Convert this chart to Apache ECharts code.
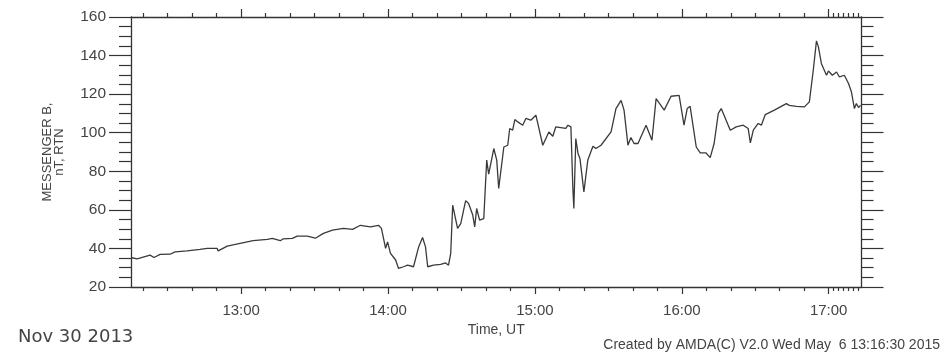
<!DOCTYPE html>
<html lang="en">
<head>
    <meta charset="UTF-8">
    <title>MESSENGER B</title>
    <script src="https://cdn.jsdelivr.net/npm/echarts@6/dist/echarts.min.js"></script>
    <style>
        html, body { margin: 0; padding: 0; background: #fff; }
        #container { width: 943px; height: 359px; }
    </style>
</head>
<body>
<div id="container"></div>
<script type="text/javascript">

    // minutes after 12:00 UT, Nov 30 2013
    var minutes = [
        15.0, 17.5, 22.8, 24.4, 26.9, 31.0, 33.0, 37.9, 43.2, 46.1,
        50.2, 50.6, 54.3, 59.6, 64.9, 70.7, 72.7, 76.0, 77.2, 80.9,
        82.9, 87.0, 90.3, 93.6, 97.3, 101.8, 105.5, 108.7, 112.8, 116.1,
        117.3, 119.0, 119.8, 121.0, 123.1, 124.3, 126.3, 128.0, 130.4, 132.5,
        134.1, 135.3, 136.2, 138.6, 141.5, 143.5, 144.7, 145.6, 146.4, 148.4,
        149.7, 151.7, 152.9, 154.6, 155.4, 156.2, 157.4, 159.1, 160.3, 161.1,
        163.2, 164.4, 165.2, 167.3, 168.9, 169.7, 170.9, 171.8, 173.0, 175.0,
        176.3, 178.3, 180.4, 183.2, 185.7, 187.3, 188.5, 192.6, 193.5, 194.7,
        195.5, 195.9, 196.7, 197.6, 198.4, 200.0, 201.6, 203.7, 204.9, 207.0,
        211.1, 213.1, 215.2, 216.4, 218.0, 219.2, 220.5, 222.1, 225.4, 227.8,
        229.5, 232.8, 235.6, 238.9, 240.9, 242.2, 243.4, 245.9, 247.5, 249.9,
        251.6, 253.2, 254.9, 256.1, 258.1, 259.8, 262.2, 265.1, 267.1, 268.0,
        269.2, 271.2, 272.5, 274.1, 277.8, 282.7, 283.9, 286.8, 290.1, 292.1,
        293.7, 295.0, 295.8, 297.0, 299.1, 299.9, 301.5, 303.2, 304.4, 306.4,
        308.1, 309.3, 310.5, 311.3, 312.2, 313.0
    ];
    // |B| in nT
    var bValues = [
        35.3, 34.6, 36.5, 35.3, 36.9, 37.0, 38.2, 38.7, 39.5, 40.0,
        40.0, 38.7, 41.2, 42.6, 44.0, 44.7, 45.2, 44.0, 45.0, 45.2,
        46.4, 46.4, 45.3, 47.8, 49.5, 50.4, 49.9, 52.0, 51.2, 52.0,
        50.4, 40.0, 43.4, 37.4, 34.0, 29.6, 30.5, 31.3, 30.5, 40.8,
        45.7, 40.8, 30.5, 31.3, 31.7, 32.5, 31.3, 37.4, 62.4, 50.4,
        52.9, 64.8, 63.3, 57.3, 51.2, 60.7, 54.7, 55.5, 85.8, 78.5,
        91.8, 85.8, 71.1, 92.6, 93.5, 102.2, 101.3, 106.8, 105.6, 103.9,
        107.4, 106.5, 109.1, 93.5, 100.4, 98.2, 103.0, 102.2, 103.9, 103.0,
        71.1, 60.7, 97.0, 89.2, 86.6, 69.3, 85.8, 93.0, 91.8, 93.5,
        100.4, 112.5, 116.8, 111.7, 93.5, 97.5, 94.4, 94.4, 103.9, 96.1,
        117.7, 111.7, 118.9, 119.4, 103.9, 112.5, 113.7, 92.6, 89.5, 89.5,
        87.1, 94.4, 110.0, 112.5, 106.5, 101.3, 103.0, 103.9, 102.2, 94.7,
        101.3, 104.8, 103.9, 109.4, 111.7, 115.1, 114.2, 113.7, 113.4, 116.0,
        132.4, 147.6, 144.5, 135.9, 129.8, 132.0, 129.8, 131.5, 128.9, 129.8,
        125.5, 121.1, 112.5, 115.1, 113.1, 114.2
    ];

    // axis range, minutes after midnight
    var timeMin = 735;      // 12:15
    var timeMax = 1033.4;   // ~17:13
    var hourTicks = [780, 840, 900, 960, 1020];
    var minorTicks = [740, 750, 760, 770, 790, 800, 810, 820, 830, 850, 860, 870, 880, 890,
        910, 920, 930, 940, 950, 970, 980, 990, 1000, 1010, 1022, 1024, 1026, 1028, 1030, 1032];

    var dayLabel = 'Nov 30 2013';
    var creditLabel = 'Created by AMDA(C) V2.0 Wed May  6 13:16:30 2015';

    var data = [];
    for (var i = 0; i < minutes.length; i++) {
        data.push([720 + minutes[i], bValues[i]]);
    }

    var ink = '#333';
    var font = 'Liberation Sans';

    function hhmm(v) {
        var h = Math.floor(v / 60), m = Math.round(v - h * 60);
        return h + ':' + (m < 10 ? '0' : '') + m;
    }

    function xAxisDef(pos, ticks, len, main) {
        return {
            type: 'value',
            position: pos,
            offset: 0,
            min: timeMin,
            max: timeMax,
            splitLine: {show: false},
            axisLine: {show: main, onZero: false, lineStyle: {color: ink, width: 1.3}},
            axisTick: {show: true, inside: false, length: len, customValues: ticks,
                lineStyle: {color: ink, width: 1.2}},
            axisLabel: {show: main && pos === 'bottom', customValues: hourTicks, formatter: hhmm,
                margin: 16, color: '#444', fontFamily: font, fontSize: 15},
            name: main && pos === 'bottom' ? 'Time, UT' : '',
            nameLocation: 'middle',
            nameGap: 29,
            nameTextStyle: {color: '#444', fontFamily: font, fontSize: 14}
        };
    }

    function yAxisDef(pos, main) {
        return {
            type: 'value',
            position: pos,
            offset: 0,
            min: 20,
            max: 160,
            interval: 20,
            splitLine: {show: false},
            axisLine: {show: true, lineStyle: {color: ink, width: 1.3}},
            axisTick: {show: true, inside: false, length: 22, lineStyle: {color: ink, width: 1.2}},
            minorTick: {show: true, splitNumber: 4, length: 12, lineStyle: {color: ink, width: 1.2}},
            axisLabel: {show: main, margin: 25, color: '#444', fontFamily: font, fontSize: 15.5},
            name: main ? 'MESSENGER B,\nnT, RTN' : '',
            nameLocation: 'middle',
            nameRotate: 90,
            nameGap: 66,
            nameTextStyle: {color: '#444', fontFamily: font, fontSize: 13, lineHeight: 12}
        };
    }

    var myChart = echarts.init(document.getElementById('container'), null, {renderer: 'canvas'});

    myChart.setOption({
        animation: false,
        backgroundColor: '#fff',
        grid: {left: 131, right: 81.5, top: 17, bottom: 72},
        xAxis: [
            xAxisDef('bottom', hourTicks, 7, true),
            xAxisDef('bottom', minorTicks, 4, false),
            xAxisDef('top', hourTicks, 8, true),
            xAxisDef('top', minorTicks, 4, false)
        ],
        yAxis: [
            yAxisDef('left', true),
            yAxisDef('right', false)
        ],
        graphic: [
            {type: 'text', left: 18, top: 328,
                style: {text: dayLabel, fill: '#444', font: '18px "DejaVu Sans"'}},
            {type: 'text', right: 3, top: 338,
                style: {text: creditLabel, fill: '#444', font: '14px "Liberation Sans"'}}
        ],
        series: [{
            type: 'line',
            xAxisIndex: 0,
            yAxisIndex: 0,
            data: data,
            showSymbol: false,
            lineStyle: {color: '#3a3a3a', width: 1.3}
        }]
    });
</script>
</body>
</html>
